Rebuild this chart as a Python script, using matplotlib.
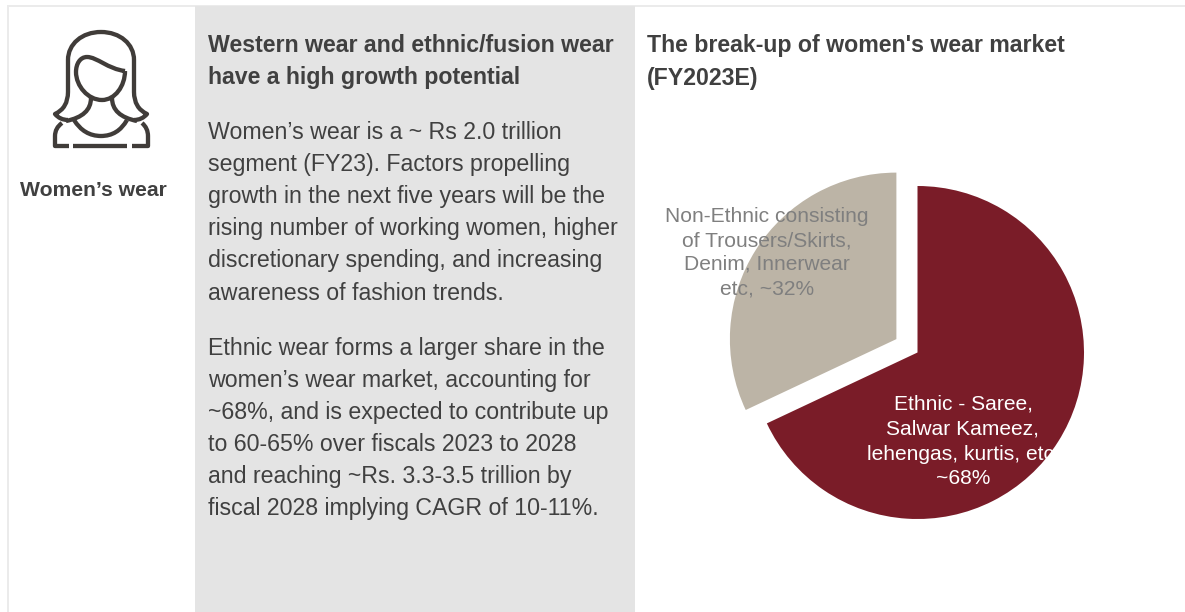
import matplotlib
matplotlib.use("Agg")
import matplotlib.pyplot as plt
from matplotlib.patches import PathPatch, Rectangle
from matplotlib.path import Path

W, H = 1185, 612

shares = [68, 32]
slice_colors = ["#7a1c28", "#bcb4a6"]
ethnic_label = ["Ethnic - Saree,", "Salwar Kameez,", "lehengas, kurtis, etc,", "~68%"]
non_ethnic_label = ["Non-Ethnic consisting", "of Trousers/Skirts,", "Denim, Innerwear", "etc, ~32%"]

mid_heading = ["Western wear and ethnic/fusion wear", "have a high growth potential"]
para_one = ["Women\u2019s wear is a ~ Rs 2.0 trillion", "segment (FY23). Factors propelling",
            "growth in the next five years will be the", "rising number of working women, higher",
            "discretionary spending, and increasing", "awareness of fashion trends."]
para_two = ["Ethnic wear forms a larger share in the", "women\u2019s wear market, accounting for",
            "~68%, and is expected to contribute up", "to 60-65% over fiscals 2023 to 2028",
            "and reaching ~Rs. 3.3-3.5 trillion by", "fiscal 2028 implying CAGR of 10-11%."]
right_heading = ["The break-up of women's wear market", "(FY2023E)"]

plt.rcParams["font.family"] = ["Liberation Sans", "DejaVu Sans"]
TEXT = "#404040"

fig = plt.figure(figsize=(W / 100, H / 100), dpi=100, facecolor="white")
ax = fig.add_axes([0, 0, 1, 1])


def Y(y):
    # page coordinates run downward, the axes run upward
    return H - y


def lines(xs, ys, rows, **kw):
    for y, row in zip(ys, rows):
        ax.text(xs, Y(y), row, va="center", **kw)


# pie first so the limits can be reset to page pixels afterwards
ax.pie(shares, colors=slice_colors, startangle=90, counterclock=False,
       center=(917.5, Y(352.5)), radius=166.5, explode=[0, 25],
       wedgeprops=dict(linewidth=0, zorder=3))
ax.set_xlim(0, W)
ax.set_ylim(0, H)
ax.set_aspect("auto")
ax.axis("off")

# page frame and grey middle column
ax.add_patch(Rectangle((7, 0), W - 7, Y(5), fc="#ebebeb", ec="none", zorder=0))
ax.add_patch(Rectangle((9, 0), W - 9, Y(7), fc="white", ec="none", zorder=1))
ax.add_patch(Rectangle((195, 0), 440, Y(6), fc="#e4e4e4", ec="none", zorder=2))

# woman icon, outline strokes
M, L, C3, C4 = Path.MOVETO, Path.LINETO, Path.CURVE3, Path.CURVE4
icon = [
    # hair, flick to flick over the top of the head
    ([(68, 120), (60, 120), (55, 114), (68, 108), (68, 92), (68, 60),
      (68, 44), (82, 32), (101, 32), (120, 32), (134, 44), (134, 60),
      (134, 92), (134, 108), (147, 114), (142, 120), (134, 120)],
     [M, C3, C3, C3, C3, L, C4, C4, C4, C4, C4, C4, L, C3, C3, C3, C3]),
    # neck running into the hair
    ([(91, 98), (91, 116), (66, 121)], [M, C3, C3]),
    ([(112, 98), (112, 116), (137, 121)], [M, C3, C3]),
    # face and fringe
    ([(125, 71), (108, 69), (97, 57), (87, 57), (80, 57), (76, 64), (76, 72),
      (76, 86), (88, 100), (102, 100), (115, 100), (125, 86), (125, 71)],
     [M, C4, C4, C4, C4, C4, C4, C4, C4, C4, C4, C4, C4]),
    # shoulders and chest line
    ([(62, 123), (55, 128), (55, 136), (55, 146), (69, 146)], [M, C3, C3, L, L]),
    ([(73, 146), (127, 146)], [M, L]),
    ([(132, 146), (148, 146), (148, 136), (148, 128), (142, 123)], [M, L, L, C3, C3]),
    # neckline
    ([(74, 120), (84, 136), (101, 136), (118, 136), (127, 120)], [M, C3, C3, C3, C3]),
]
for pts, codes in icon:
    ax.add_patch(PathPatch(Path([(x, Y(y)) for x, y in pts], codes), fc="none",
                           ec="#403c39", lw=3.1, capstyle="butt", joinstyle="round", zorder=4))

ax.text(93.5, Y(190.5), "Women\u2019s wear", ha="center", va="center", fontsize=15.2,
        fontweight="bold", color=TEXT, zorder=5)

lines(208, [45.5, 77.5], mid_heading, fontsize=16.7, fontweight="bold", color=TEXT, zorder=5)
lines(208, [132.5, 164.5, 196.5, 228.5, 260.5, 293.5], para_one, fontsize=16.7, color=TEXT, zorder=5)
lines(208, [348.5, 380.5, 412.5, 444.5, 476.5, 508.5], para_two, fontsize=16.7, color=TEXT, zorder=5)
lines(647, [45.5, 78.5], right_heading, fontsize=16.7, fontweight="bold", color=TEXT, zorder=5)

for y, row in zip([217, 241, 264, 289], non_ethnic_label):
    ax.text(767, Y(y), row, ha="center", va="center", fontsize=15.1, color="#7f7f7f", zorder=5)
for y, row in zip([404, 429, 454, 478], ethnic_label):
    ax.text(963, Y(y), row, ha="center", va="center", fontsize=15.1, color="white", zorder=5)

fig.savefig("out.png", dpi=100, facecolor="white")
